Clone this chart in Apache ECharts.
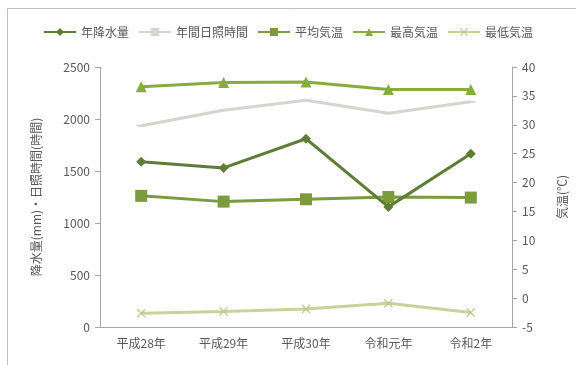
<!DOCTYPE html>
<html>
<head>
<meta charset="utf-8">
<script src="https://cdn.jsdelivr.net/npm/echarts@6/dist/echarts.min.js"></script>
<style>
  html, body { margin: 0; padding: 0; background: #fff; }
  #chart { width: 576px; height: 365px; }
</style>
</head>
<body>
<div id="chart"></div>
<script>
// 年度
const years = ['平成28年', '平成29年', '平成30年', '令和元年', '令和2年']
// 左軸 (mm / 時間)
const rainfall = [1590, 1530, 1810, 1155, 1665]
const sunshine = [1935, 2085, 2180, 2055, 2165]
// 右軸 (℃)
const tempMean = [17.7, 16.7, 17.1, 17.5, 17.4]
const tempMax = [36.6, 37.3, 37.4, 36.1, 36.1]
const tempMin = [-2.6, -2.3, -1.9, -0.9, -2.5]

const textColor = '#595959'
const axisColor = '#a6a6a6'
const font = '"Noto Sans CJK JP", sans-serif'

const crossPath = 'path://M0,1L1,0L5,4L9,0L10,1L6,5L10,9L9,10L5,6L1,10L0,9L4,5Z'

let myChart = echarts.init(document.getElementById('chart'))

let option = {
    animation: false,
    textStyle: { fontFamily: font, color: textColor },
    graphic: [{
        type: 'rect',
        shape: { x: 7.5, y: 8.5, width: 600, height: 400 },
        style: { fill: 'none', stroke: '#c0c0c0', lineWidth: 1 }
    }],
    legend: {
        top: 21,
        left: 'center',
        itemGap: 9,
        itemWidth: 32,
        itemHeight: 10,
        textStyle: { fontFamily: font, fontSize: 12, color: textColor },
        data: ['年降水量', '年間日照時間', '平均気温', '最高気温', '最低気温']
    },
    grid: { left: 100, right: 58, top: 67, bottom: 38 },
    xAxis: {
        type: 'category',
        data: years,
        boundaryGap: true,
        axisLine: { lineStyle: { color: axisColor } },
        axisTick: { lineStyle: { color: axisColor }, length: 5 },
        axisLabel: { fontFamily: font, fontSize: 12, color: textColor, margin: 10 }
    },
    yAxis: [{
        type: 'value',
        min: 0,
        max: 2500,
        interval: 500,
        name: '降水量(mm)・日照時間(時間)',
        nameLocation: 'middle',
        nameGap: 58,
        nameTextStyle: { fontFamily: font, fontSize: 12, color: textColor },
        axisLine: { show: true, lineStyle: { color: axisColor } },
        axisTick: { show: true, lineStyle: { color: axisColor }, length: 5 },
        axisLabel: { fontFamily: font, fontSize: 12, color: textColor, margin: 10, formatter: v => String(v) },
        splitLine: { show: false }
    }, {
        type: 'value',
        min: -5,
        max: 40,
        interval: 5,
        name: '気温(℃)',
        nameLocation: 'middle',
        nameGap: 44,
        nameTextStyle: { fontFamily: font, fontSize: 12, color: textColor },
        axisLine: { show: true, lineStyle: { color: axisColor } },
        axisTick: { show: true, lineStyle: { color: axisColor }, length: 5 },
        axisLabel: { fontFamily: font, fontSize: 12, color: textColor, margin: 10 },
        splitLine: { show: false }
    }],
    series: [
        {
            name: '年降水量', type: 'line', yAxisIndex: 0, data: rainfall,
            symbol: 'diamond', symbolSize: 10,
            lineStyle: { color: '#5e7d36', width: 3 },
            itemStyle: { color: '#5e7d36' }, z: 5
        },
        {
            name: '年間日照時間', type: 'line', yAxisIndex: 0, data: sunshine,
            symbol: 'rect', symbolSize: [9, 2],
            lineStyle: { color: '#d4d6cd', width: 3 },
            itemStyle: { color: '#d4d6cd' }
        },
        {
            name: '平均気温', type: 'line', yAxisIndex: 1, data: tempMean,
            symbol: 'rect', symbolSize: 12,
            lineStyle: { color: '#7b9b3d', width: 3 },
            itemStyle: { color: '#7b9b3d' }
        },
        {
            name: '最高気温', type: 'line', yAxisIndex: 1, data: tempMax,
            symbol: 'triangle', symbolSize: 11,
            lineStyle: { color: '#86ad3b', width: 3 },
            itemStyle: { color: '#86ad3b' }
        },
        {
            name: '最低気温', type: 'line', yAxisIndex: 1, data: tempMin,
            symbol: crossPath, symbolSize: 9,
            lineStyle: { color: '#c6d49c', width: 3 },
            itemStyle: { color: '#b9c98a' }
        }
    ]
}

option && myChart.setOption(option)
</script>
</body>
</html>
